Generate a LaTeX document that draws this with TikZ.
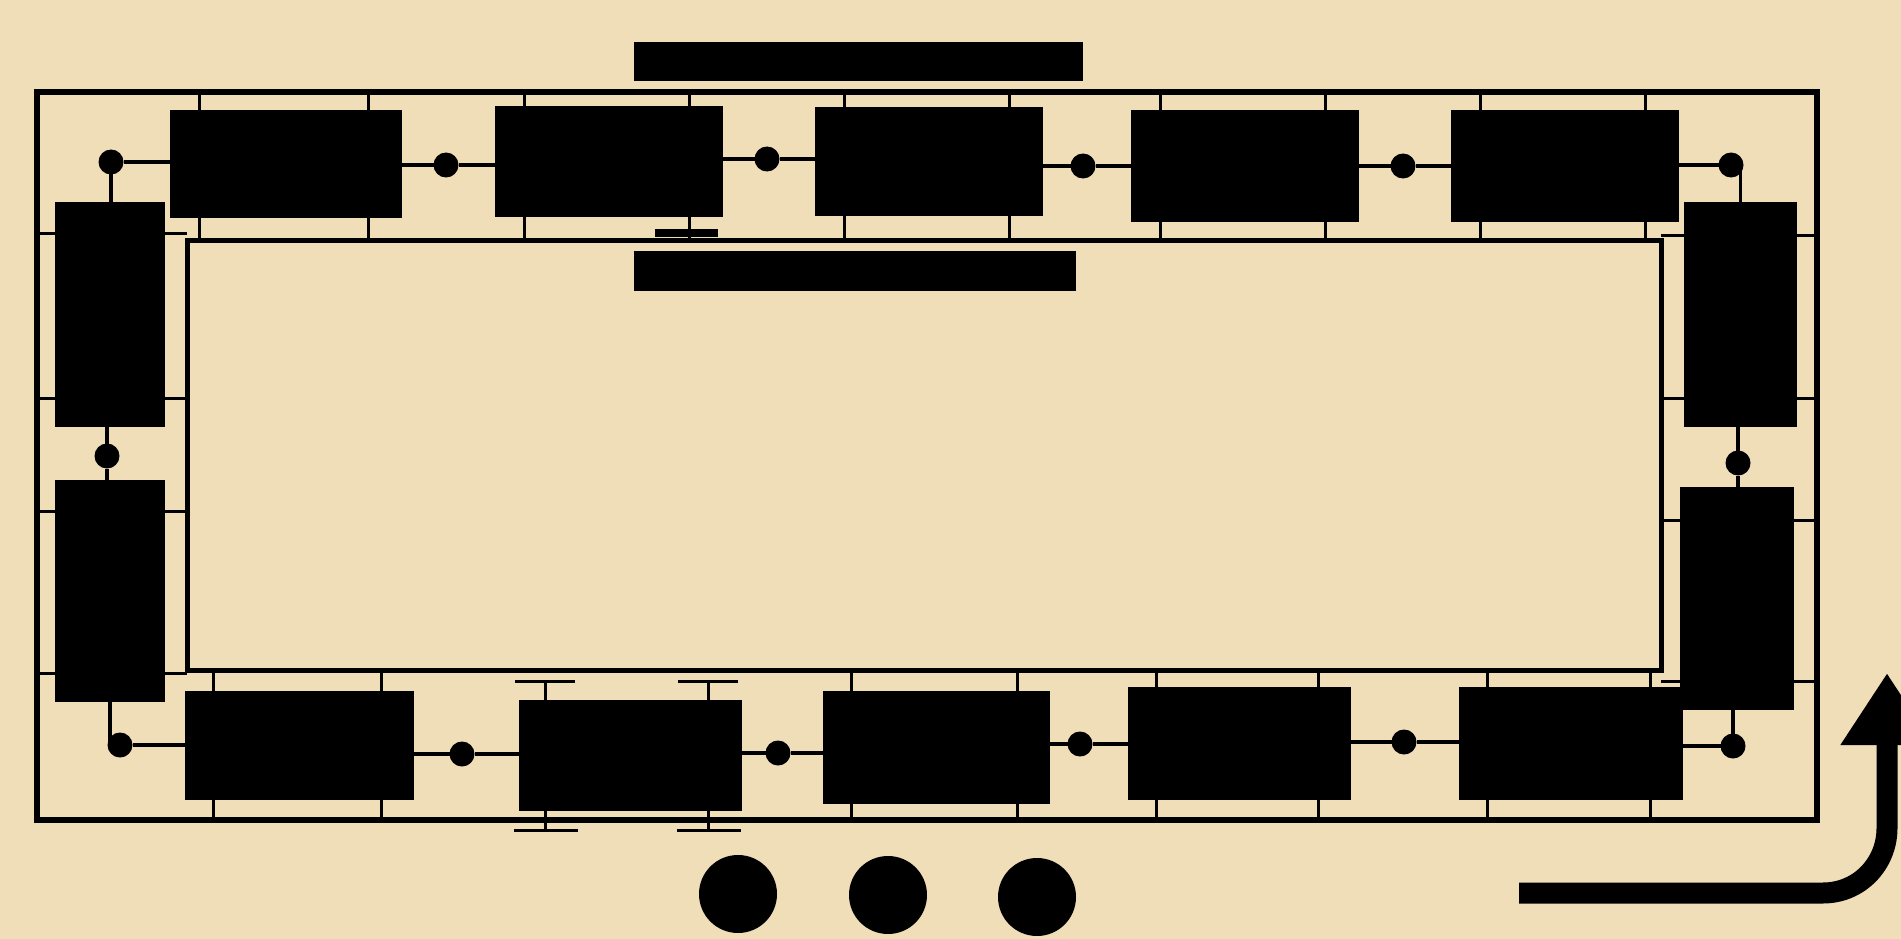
\documentclass[tikz,border=0pt]{standalone}
\usetikzlibrary{arrows.meta}
\definecolor{parch}{RGB}{239,222,184}
\tikzset{
  blk/.style={fill=black,draw=none,inner sep=0pt,outer sep=0pt},
  jdot/.style={circle,fill=black,draw=none,inner sep=0pt,minimum size=25pt,outer sep=0pt},
  bigdot/.style={circle,fill=black,draw=none,inner sep=0pt,minimum size=78pt},
  conn/.style={line width=3.5pt,black},
  leg/.style={line width=3pt,black},
  outerframe/.style={line width=6pt,black},
  innerframe/.style={line width=5pt,black}
}
\begin{document}
\begin{tikzpicture}[x=1pt,y=-1pt]
\useasboundingbox (0,0) rectangle (1901,939);
\clip (0,0) rectangle (1901,939);
\fill[parch] (0,0) rectangle (1901,939);

% frame coordinates
\coordinate (oTL) at (37,92);
\coordinate (oBR) at (1817,820);
\coordinate (iTL) at (187,240);
\coordinate (iBR) at (1661,670);
\draw[outerframe] (oTL) rectangle (oBR);
\draw[innerframe] (iTL) rectangle (iBR);

% boxes
\path
  (286,164)     node[blk,minimum width=232pt,minimum height=108pt] (T1) {}
  (609,161.5)   node[blk,minimum width=228pt,minimum height=111pt] (T2) {}
  (929,161.5)   node[blk,minimum width=228pt,minimum height=109pt] (T3) {}
  (1245,166)    node[blk,minimum width=228pt,minimum height=112pt] (T4) {}
  (1565,166)    node[blk,minimum width=228pt,minimum height=112pt] (T5) {}
  (1740.5,314.5) node[blk,minimum width=113pt,minimum height=225pt] (R1) {}
  (1737,598.5)  node[blk,minimum width=114pt,minimum height=223pt] (R2) {}
  (110,314.5)   node[blk,minimum width=110pt,minimum height=225pt] (L1) {}
  (110,591)     node[blk,minimum width=110pt,minimum height=222pt] (L2) {}
  (299.5,745.5) node[blk,minimum width=229pt,minimum height=109pt] (B1) {}
  (630.5,755.5) node[blk,minimum width=223pt,minimum height=111pt] (B2) {}
  (936.5,747.5) node[blk,minimum width=227pt,minimum height=113pt] (B3) {}
  (1239.5,743.5) node[blk,minimum width=223pt,minimum height=113pt] (B4) {}
  (1571,743.5)  node[blk,minimum width=224pt,minimum height=113pt] (B5) {}
  (858.5,61.5)  node[blk,minimum width=449pt,minimum height=39pt] (TitleA) {}
  (855,271)     node[blk,minimum width=442pt,minimum height=40pt] (TitleB) {};

% legs: top row
\foreach \b in {T1,T2,T3,T4,T5}{
  \path ([xshift=29pt]\b.south west) coordinate (la)
        ([xshift=-34pt]\b.south east) coordinate (lb);
  \draw[leg] (la |- oTL) -- (la |- iTL);
  \draw[leg] (lb |- oTL) -- (lb |- iTL);
}
% legs: bottom row
\foreach \b in {B1,B3,B4,B5}{
  \path ([xshift=28pt]\b.south west) coordinate (la)
        ([xshift=-33pt]\b.south east) coordinate (lb);
  \draw[leg] (la |- iBR) -- (la |- oBR);
  \draw[leg] (lb |- iBR) -- (lb |- oBR);
}
% B2 legs with T-caps
\path ([xshift=26pt]B2.south west) coordinate (ba)
      ([xshift=-34pt]B2.south east) coordinate (bb);
\coordinate (capTop) at (0,681);
\coordinate (capBot) at (0,830);
\foreach \c in {ba,bb}{
  \draw[leg] (\c |- capTop) -- (\c |- capBot);
  \draw[leg] ([xshift=-30pt]\c |- capTop) -- ([xshift=30pt]\c |- capTop);
  \draw[leg] ([xshift=-31pt]\c |- capBot) -- ([xshift=33pt]\c |- capBot);
}
% legs: side columns
\foreach \b in {L1,L2}{
  \path ([yshift=-31pt]\b.north west) coordinate (la)
        ([yshift=29pt]\b.south west) coordinate (lb);
  \draw[leg] (la -| oTL) -- (la -| iTL);
  \draw[leg] (lb -| oTL) -- (lb -| iTL);
}
\foreach \b in {R1,R2}{
  \path ([yshift=-33pt]\b.north east) coordinate (la)
        ([yshift=29pt]\b.south east) coordinate (lb);
  \draw[leg] (la -| iBR) -- (la -| oBR);
  \draw[leg] (lb -| iBR) -- (lb -| oBR);
}

% redraw boxes on top of legs
\foreach \b in {T1,T2,T3,T4,T5,R1,R2,L1,L2,B1,B2,B3,B4,B5,TitleA,TitleB}{
  \fill[black] (\b.north west) rectangle (\b.south east);
}
\fill[black] (655,229) rectangle (718,237);

% junction dots
\node[jdot] (dLT) at (111,162) {};
\node[jdot] (dT12) at (446,165) {};
\node[jdot] (dT23) at (767,159) {};
\node[jdot] (dT34) at (1083,166) {};
\node[jdot] (dT45) at (1403,166) {};
\node[jdot] (dTR) at (1731,165) {};
\node[jdot] (dR12) at (1738,463) {};
\node[jdot] (dRB) at (1733,746) {};
\node[jdot] (dB45) at (1404,742) {};
\node[jdot] (dB34) at (1080,744) {};
\node[jdot] (dB23) at (778,753) {};
\node[jdot] (dB12) at (462,754) {};
\node[jdot] (dLB) at (120,745) {};
\node[jdot] (dL12) at (107,456) {};

% connectors
\draw[conn] (dLT |- L1.north) -- (dLT.center);
\draw[conn] (dLT) -- (dLT -| T1.west);
\draw[conn] (T1.east |- dT12) -- (dT12);
\draw[conn] (dT12) -- (dT12 -| T2.west);
\draw[conn] (T2.east |- dT23) -- (dT23);
\draw[conn] (dT23) -- (dT23 -| T3.west);
\draw[conn] (T3.east |- dT34) -- (dT34);
\draw[conn] (dT34) -- (dT34 -| T4.west);
\draw[conn] (T4.east |- dT45) -- (dT45);
\draw[conn] (dT45) -- (dT45 -| T5.west);
\draw[conn] (T5.east |- dTR) -- (dTR);
\draw[conn] (dTR.center) -| (R1.north);
\draw[conn] (R1.south -| dR12) -- (dR12);
\draw[conn] (dR12) -- (dR12 |- R2.north);
\draw[conn] (R2.south -| dRB) -- (dRB);
\draw[conn] (B5.east |- dRB) -- (dRB);
\draw[conn] (B5.west |- dB45) -- (dB45);
\draw[conn] (dB45) -- (dB45 -| B4.east);
\draw[conn] (B4.west |- dB34) -- (dB34);
\draw[conn] (dB34) -- (dB34 -| B3.east);
\draw[conn] (B3.west |- dB23) -- (dB23);
\draw[conn] (dB23) -- (dB23 -| B2.east);
\draw[conn] (B2.west |- dB12) -- (dB12);
\draw[conn] (dB12) -- (dB12 -| B1.east);
\draw[conn] (B1.west |- dLB) -- (dLB);
\draw[conn] (dLB.center) -| (L2.south);
\draw[conn] (L2.north -| dL12) -- (dL12);
\draw[conn] (dL12) -- (dL12 |- L1.south);

% three big dots
\node[bigdot] (E1) at (738,894) {};
\node[bigdot] (E2) at (888,895) {};
\node[bigdot] (E3) at (1037,897) {};

% curved arrow
\coordinate (arS) at (1519,893);
\coordinate (arC) at (1823,893);
\coordinate (arU) at (1887,828);
\coordinate (arT) at (1887,673);
\draw[line width=21pt,-{Triangle[length=72pt,width=88pt]}]
  (arS) -- (arC) .. controls (1859,893) and (1887,864) .. (arU) -- (arT);
\end{tikzpicture}
\end{document}
